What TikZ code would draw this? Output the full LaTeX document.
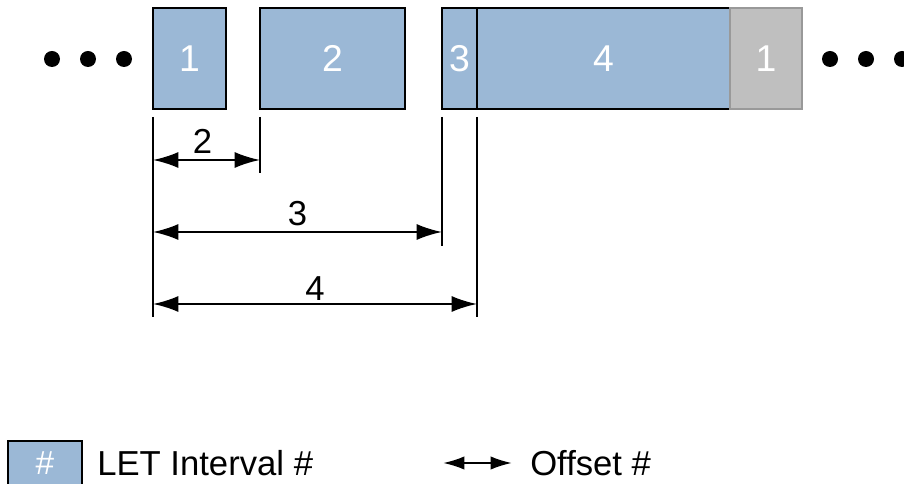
\documentclass[tikz,border=0pt]{standalone}
\usepackage{fontspec}
\setmainfont{Liberation Sans}
\usetikzlibrary{arrows.meta}
\definecolor{letblue}{RGB}{155,184,214}
\definecolor{letgrey}{RGB}{191,191,191}
\tikzstyle{interval}=[rectangle, draw, line width=1.5pt, fill=letblue, text=white, minimum height=75.75pt, inner sep=0pt, font=\fontsize{28}{28}\selectfont]
\tikzstyle{nextinterval}=[interval, draw=gray!80, fill=letgrey]
\tikzstyle{dot}=[circle, fill=black, minimum size=12pt, inner sep=0pt]
\tikzstyle{tick}=[line width=1.5pt]
\tikzstyle{offset}=[line width=1.5pt, {Latex[length=19pt,width=12pt]}-{Latex[length=19pt,width=12pt]}]
\tikzstyle{dimlabel}=[above, inner sep=4pt, font=\fontsize{26}{26}\selectfont]
\tikzstyle{legendtext}=[anchor=west, inner sep=0pt, font=\fontsize{26}{26}\selectfont]

\begin{document}
\begin{tikzpicture}[x=0.75pt, y=-0.75pt]
\useasboundingbox (0,0) rectangle (904,484);

\node [dot] (d1) at (52,59) {};
\node [dot] (d2) at (88,59) {};
\node [dot] (d3) at (124,59) {};
\node [interval, minimum width=54.75pt] (i1) at (189.5,58.5) {1};
\node [interval, minimum width=108.75pt] (i2) at (332.5,58.5) {2};
\node [interval, minimum width=26.25pt] (i3) at (459.5,58.5) {3};
\node [interval, minimum width=189.75pt] (i4) at (603.5,58.5) {4};
\node [nextinterval, minimum width=54pt] (i5) at (766,58.5) {1};
\node [dot] (d4) at (830,59) {};
\node [dot] (d5) at (866,59) {};
\node [dot] (d6) at (902,59) {};

\coordinate (t1a) at (153,117);
\coordinate (t1b) at (153,317);
\coordinate (t2a) at (260,117);
\coordinate (t2b) at (260,173);
\coordinate (t3a) at (442,117);
\coordinate (t3b) at (442,246);
\coordinate (t4a) at (477,117);
\coordinate (t4b) at (477,317);
\draw [tick] (t1a) -- (t1b);
\draw [tick] (t2a) -- (t2b);
\draw [tick] (t3a) -- (t3b);
\draw [tick] (t4a) -- (t4b);

\coordinate (o2s) at (153,160);
\coordinate (o2e) at (260,160);
\coordinate (o3s) at (153,232);
\coordinate (o3e) at (442,232);
\coordinate (o4s) at (153,304);
\coordinate (o4e) at (477,304);
\draw [offset] (o2s) -- node [dimlabel, xshift=-3pt] {2} (o2e);
\draw [offset] (o3s) -- node [dimlabel] {3} (o3e);
\draw [offset] (o4s) -- node [dimlabel, inner sep=2pt] {4} (o4e);

\node [interval, minimum width=55.5pt, minimum height=33pt, font=\fontsize{25}{25}\selectfont] (k1) at (45,463) {\#};
\node [legendtext] (k2) at (97,463) {LET Interval \#};
\coordinate (k3) at (443,463);
\coordinate (k4) at (512,463);
\draw [line width=1.5pt, {Latex[length=16pt,width=10pt]}-{Latex[length=16pt,width=10pt]}] (k3) -- (k4);
\node [legendtext] (k5) at (530,463) {Offset \#};
\end{tikzpicture}
\end{document}
